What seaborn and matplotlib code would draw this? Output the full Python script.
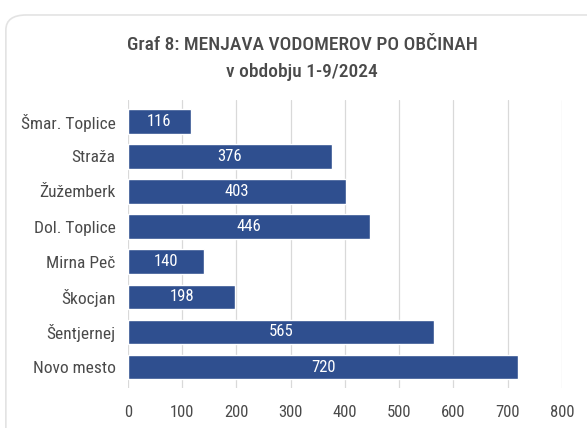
import matplotlib
matplotlib.use("Agg")
import matplotlib.pyplot as plt
import pandas as pd
import seaborn as sns
from matplotlib.patches import FancyBboxPatch

obcine = ["Šmar. Toplice", "Straža", "Žužemberk", "Dol. Toplice",
          "Mirna Peč", "Škocjan", "Šentjernej", "Novo mesto"]
vodomeri = [116, 376, 403, 446, 140, 198, 565, 720]
x_ticks = [0, 100, 200, 300, 400, 500, 600, 700, 800]

data = pd.DataFrame({"obcina": obcine, "stevilo": vodomeri})

sns.set_style("white")
plt.rcParams["font.family"] = ["Roboto Condensed", "Roboto", "DejaVu Sans"]

bar_color = "#2f4f8f"
text_color = "#4a4a4a"

fig = plt.figure(figsize=(5.87, 4.28), dpi=100)
fig.patch.set_facecolor("white")

# rounded panel behind the chart
panel = FancyBboxPatch((0.01, -0.05), 1.2, 1.015, transform=fig.transFigure,
                       boxstyle="round,pad=0,rounding_size=0.035",
                       facecolor="white", edgecolor="#e3e3e3", linewidth=1.2,
                       zorder=-5)
fig.patches.append(panel)

ax = fig.add_axes([0.218, 0.093, 0.739, 0.673])
ax.set_facecolor("none")
sns.barplot(data=data, x="stevilo", y="obcina", color=bar_color,
            width=0.7, saturation=1, ax=ax, zorder=3)

for i, v in enumerate(vodomeri):
    ax.text(v / 2, i, str(v), ha="center", va="center", color="white",
            fontsize=12, zorder=4)

ax.set_xlim(0, 800)
ax.set_xticks(x_ticks)
ax.set_ylim(7.6, -0.6)
ax.grid(axis="x", color="#d9d9d9", linewidth=0.9, zorder=0)
ax.set_axisbelow(True)
ax.set_xlabel("")
ax.set_ylabel("")
for s in ax.spines.values():
    s.set_visible(False)
ax.tick_params(axis="x", length=0, pad=12, labelsize=12, labelcolor=text_color)
ax.tick_params(axis="y", length=0, pad=9, labelsize=12.5, labelcolor=text_color)

fig.text(0.515, 0.895, "Graf 8: MENJAVA VODOMEROV PO OBČINAH",
         ha="center", va="center", fontsize=14, fontweight="medium",
         color=text_color)
fig.text(0.515, 0.832, "v obdobju 1-9/2024",
         ha="center", va="center", fontsize=14, fontweight="medium",
         color=text_color)

fig.savefig("out.png", dpi=100)
